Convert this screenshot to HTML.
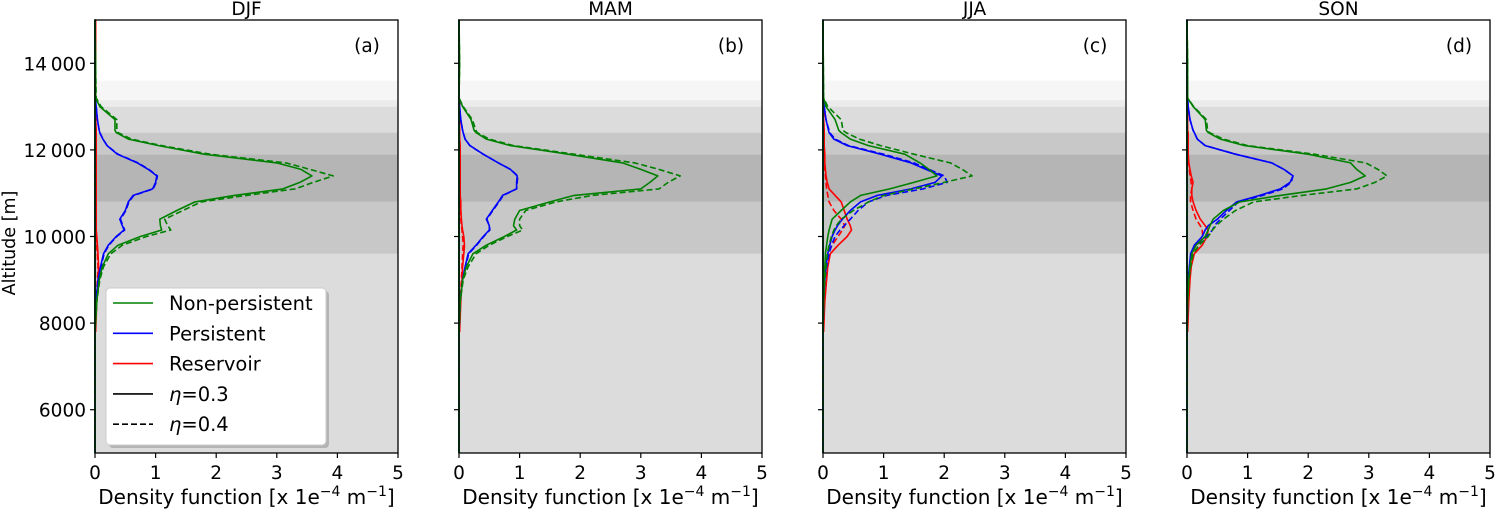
<!DOCTYPE html>
<html><head><meta charset="utf-8"><style>
html,body{margin:0;padding:0;background:#fff;}
svg{display:block;font-family:"DejaVu Sans","Liberation Sans",sans-serif;}
</style></head><body>
<svg id="chart" width="1496" height="509" viewBox="0 0 1496 509" xmlns="http://www.w3.org/2000/svg"></svg>
<script>
const seasons = ["DJF","MAM","JJA","SON"];
const panelLabels = ["(a)","(b)","(c)","(d)"];
const xTicks = [0,1,2,3,4,5];
const yTicks = [6000,8000,10000,12000,14000];
const yTickLabels = ["6000","8000","10\u2009000","12\u2009000","14\u2009000"];
const altitudes = [7800,8500,9000,9300,9600,9800,10000,10150,10250,10400,10600,10800,10950,11100,11250,11400,11550,11700,11900,12100,12250,12400,12450,12700,13000,13200,14000,15000];
const bandLo = [5000,9600,10800,11900,12400,13000,13150];
const bandHi = [9600,10800,11900,12400,13000,13150,13600];
const bandFill = ["#dcdcdc","#c8c8c8","#b5b5b5","#c8c8c8","#dcdcdc","#ebebeb","#f6f6f6"];
const djfNp03 = [0,0.03,0.07,0.12,0.22,0.38,0.75,1.1,1.08,1.07,1.35,1.65,2.3,3.1,3.38,3.58,3.4,3.0,1.8,1.05,0.55,0.35,0.33,0.33,0.08,0.01,0.01,0];
const djfNp04 = [0,0.03,0.08,0.14,0.26,0.45,0.85,1.25,1.2,1.15,1.45,1.75,2.5,3.3,3.6,3.93,3.55,3.15,1.9,1.1,0.6,0.38,0.36,0.36,0.1,0.02,0.01,0];
const djfP03 = [0,0.02,0.05,0.09,0.14,0.22,0.35,0.48,0.45,0.41,0.5,0.55,0.63,0.95,1.0,1.02,0.88,0.7,0.37,0.2,0.13,0.08,0.07,0.04,0.02,0.005,0,0];
const djfP04 = [0,0.02,0.05,0.1,0.15,0.23,0.36,0.49,0.46,0.42,0.51,0.56,0.64,0.96,1.01,1.03,0.89,0.71,0.38,0.2,0.13,0.08,0.07,0.04,0.02,0.005,0,0];
const djfR03 = [0.01,0.03,0.05,0.06,0.05,0.04,0.03,0.02,0.02,0.02,0.02,0.02,0.02,0.02,0.02,0.02,0.02,0.02,0.02,0.02,0.02,0.02,0.02,0.01,0.01,0.01,0.01,0.01];
const djfR04 = [0.01,0.02,0.04,0.05,0.04,0.03,0.02,0.02,0.02,0.02,0.02,0.02,0.02,0.02,0.02,0.02,0.02,0.02,0.02,0.02,0.02,0.02,0.02,0.01,0.01,0.01,0.01,0.01];
const mamNp03 = [0,0.02,0.06,0.12,0.23,0.45,0.75,0.95,0.9,0.92,1.0,1.5,1.9,3.0,3.15,3.28,3.0,2.7,1.8,0.85,0.45,0.28,0.25,0.2,0.06,0,0.01,0];
const mamNp04 = [0,0.02,0.07,0.15,0.28,0.5,0.8,1.05,1.0,1.0,1.1,1.6,2.2,3.3,3.45,3.65,3.3,2.9,1.9,0.9,0.5,0.3,0.28,0.22,0.07,0,0.01,0];
const mamP03 = [0,0.02,0.06,0.1,0.15,0.28,0.4,0.5,0.5,0.45,0.55,0.65,0.72,0.95,0.95,0.96,0.85,0.65,0.4,0.18,0.1,0.07,0.06,0.03,0.01,0,0,0];
const mamP04 = [0,0.02,0.06,0.11,0.16,0.29,0.41,0.51,0.5,0.46,0.56,0.66,0.73,0.95,0.96,0.97,0.85,0.65,0.4,0.18,0.1,0.07,0.06,0.03,0.01,0,0,0];
const mamR03 = [0.01,0.03,0.05,0.06,0.08,0.09,0.08,0.06,0.05,0.04,0.03,0.03,0.02,0.02,0.02,0.02,0.02,0.02,0.02,0.02,0.01,0.01,0.01,0.01,0.01,0,0,0];
const mamR04 = [0.01,0.02,0.04,0.05,0.06,0.07,0.06,0.05,0.04,0.03,0.03,0.02,0.02,0.02,0.02,0.02,0.02,0.02,0.02,0.02,0.01,0.01,0.01,0.01,0.01,0,0,0];
const jjaNp03 = [0,0.01,0.02,0.03,0.04,0.06,0.08,0.1,0.12,0.15,0.3,0.45,0.62,1.1,1.5,1.88,1.75,1.6,1.35,0.75,0.45,0.3,0.26,0.2,0.05,0.01,0.005,0];
const jjaNp04 = [0,0.01,0.03,0.05,0.07,0.1,0.14,0.18,0.22,0.3,0.5,0.75,1.0,1.5,2.0,2.46,2.3,2.1,1.5,0.95,0.6,0.38,0.33,0.3,0.08,0.01,0.005,0];
const jjaP03 = [0,0.01,0.03,0.05,0.08,0.11,0.15,0.2,0.24,0.32,0.45,0.62,0.9,1.45,1.85,1.96,1.7,1.45,0.95,0.4,0.18,0.1,0.09,0.05,0.02,0,0,0];
const jjaP04 = [0,0.01,0.03,0.06,0.1,0.14,0.2,0.28,0.35,0.45,0.58,0.75,1.05,1.65,2.05,2.0,1.75,1.5,1.0,0.42,0.2,0.11,0.1,0.05,0.02,0,0,0];
const jjaR03 = [0.01,0.03,0.06,0.08,0.12,0.25,0.4,0.47,0.45,0.4,0.35,0.3,0.2,0.1,0.07,0.05,0.04,0.03,0.03,0.02,0.02,0.02,0.02,0.01,0.01,0,0,0];
const jjaR04 = [0.01,0.02,0.04,0.06,0.08,0.15,0.25,0.32,0.36,0.3,0.18,0.1,0.08,0.06,0.05,0.04,0.03,0.03,0.02,0.02,0.02,0.02,0.02,0.01,0.01,0,0,0];
const sonNp03 = [0,0.01,0.03,0.05,0.08,0.15,0.3,0.35,0.38,0.43,0.6,0.87,1.54,2.3,2.7,2.94,2.8,2.7,2.0,0.95,0.55,0.35,0.32,0.3,0.1,0.01,0.01,0];
const sonNp04 = [0,0.01,0.03,0.06,0.1,0.2,0.35,0.42,0.48,0.6,0.8,1.1,1.9,2.8,3.1,3.3,3.15,2.95,2.1,1.0,0.6,0.37,0.34,0.32,0.11,0.01,0.01,0];
const sonP03 = [0,0.01,0.02,0.04,0.06,0.12,0.25,0.3,0.35,0.5,0.65,0.82,1.2,1.54,1.7,1.75,1.6,1.4,0.8,0.3,0.17,0.12,0.1,0.05,0.02,0.01,0,0];
const sonP04 = [0,0.01,0.02,0.04,0.07,0.15,0.32,0.42,0.45,0.55,0.7,0.85,1.25,1.58,1.72,1.75,1.6,1.4,0.8,0.3,0.17,0.12,0.1,0.05,0.02,0.01,0,0];
const sonR03 = [0.01,0.03,0.05,0.07,0.12,0.25,0.33,0.35,0.3,0.22,0.15,0.1,0.08,0.08,0.1,0.07,0.05,0.03,0.02,0.02,0.02,0.02,0.01,0.01,0.01,0,0,0];
const sonR04 = [0.01,0.02,0.04,0.06,0.1,0.2,0.26,0.25,0.22,0.15,0.1,0.06,0.06,0.08,0.07,0.05,0.04,0.03,0.02,0.02,0.02,0.02,0.01,0.01,0.01,0,0,0];

const seasonData = [
  [djfNp03,djfNp04,djfP03,djfP04,djfR03,djfR04],
  [mamNp03,mamNp04,mamP03,mamP04,mamR03,mamR04],
  [jjaNp03,jjaNp04,jjaP03,jjaP04,jjaR03,jjaR04],
  [sonNp03,sonNp04,sonP03,sonP04,sonR03,sonR04]];
const seriesNames = ["non-persistent-eta03","non-persistent-eta04","persistent-eta03","persistent-eta04","reservoir-eta03","reservoir-eta04"];
const seriesColor = ["#008000","#008000","#0000ff","#0000ff","#ff0000","#ff0000"];
const seriesDash = [false,true,false,true,false,true];

const NS="http://www.w3.org/2000/svg";
const svg=document.getElementById('chart');
const panelX=[95,459,823,1187], PW=303, PT=20, PH=433;
const yMin=5000,yMax=15000,xMax=5;
function ys(v){return PT+PH*(yMax-v)/(yMax-yMin);}
function xs(p,v){return panelX[p]+PW*v/xMax;}
function el(tag,attrs,parent){const e=document.createElementNS(NS,tag);for(const k in attrs)e.setAttribute(k,attrs[k]);(parent||svg).appendChild(e);return e;}

const drawOrder=[4,5,2,3,0,1];
for(let p=0;p<4;p++){
  const g=el('g',{});
  
  
  for(let b=0;b<bandLo.length;b++){
    const r=el('rect',{x:panelX[p],y:ys(bandHi[b]),width:PW,height:ys(bandLo[b])-ys(bandHi[b]),fill:bandFill[b]},g);
    
    
  }
  for(const s of drawOrder){
    const vals=seasonData[p][s];
    let d='';
    for(let i=0;i<altitudes.length;i++){d+=(i?'L':'M')+xs(p,vals[i]).toFixed(1)+','+ys(altitudes[i]).toFixed(1);}
    d+='L'+xs(p,0)+','+ys(yMin);
    const a={d:d,fill:'none',stroke:seriesColor[s],'stroke-width':1.6,'stroke-linejoin':'round'};
    if(seriesDash[s])a['stroke-dasharray']='6,3';
    const path=el('path',a,g);
    
    
  }
  const fr=el('rect',{x:panelX[p],y:PT,width:PW,height:PH,fill:'none',stroke:'#000','stroke-width':1.3},g);
  
  
  const t=el('text',{x:panelX[p]+PW/2,y:15,'text-anchor':'middle','font-size':18.5},g);
  t.textContent=seasons[p];
  
  
  const pl=el('text',{x:panelX[p]+272,y:52,'text-anchor':'middle','font-size':18.5},g);
  pl.textContent=panelLabels[p];
  
  
  for(const v of xTicks){
    el('line',{x1:xs(p,v),x2:xs(p,v),y1:PT+PH,y2:PT+PH+5,stroke:'#000','stroke-width':1.2},g);
    const tx=el('text',{x:xs(p,v),y:PT+PH+26,'text-anchor':'middle','font-size':18.5},g);
    tx.textContent=v;
    
    
  }
  for(let i=0;i<yTicks.length;i++){
    el('line',{x1:panelX[p]-5,x2:panelX[p],y1:ys(yTicks[i]),y2:ys(yTicks[i]),stroke:'#000','stroke-width':1.2},g);
    if(p===0){
      const ty=el('text',{x:panelX[p]-9,y:ys(yTicks[i])+7,'text-anchor':'end','font-size':18.5},g);
      ty.textContent=yTickLabels[i];
      
      
    }
  }
  const xl=el('text',{x:panelX[p]+PW/2,y:504,'text-anchor':'middle','font-size':20},g);
  xl.innerHTML='Density function [x 1e<tspan dy="-8" font-size="14">\u22124</tspan><tspan dy="8"> m</tspan><tspan dy="-8" font-size="14">\u22121</tspan><tspan dy="8">]</tspan>';
  
  
}
const yl=el('text',{x:0,y:0,'text-anchor':'middle','font-size':17.5,transform:'translate(15,243) rotate(-90)'});
yl.textContent='Altitude [m]';



const lg=el('g',{});


el('rect',{x:109,y:291,width:220,height:157,rx:4,fill:'#999',opacity:0.6},lg);
el('rect',{x:106,y:288,width:220,height:157,rx:4,fill:'#fff',stroke:'#ccc','stroke-width':1},lg);
const legLabels=["Non-persistent","Persistent","Reservoir","\u03b7=0.3","\u03b7=0.4"];
const legColors=["#008000","#0000ff","#ff0000","#000","#000"];
const legDash=[false,false,false,false,true];
for(let i=0;i<legLabels.length;i++){
  const yy=303+i*30.3;
  const a={x1:113,x2:153,y1:yy,y2:yy,stroke:legColors[i],'stroke-width':1.6};
  if(legDash[i])a['stroke-dasharray']='6,3';
  el('line',a,lg);
  const tt=el('text',{x:169,y:yy+7,'font-size':19.5},lg);
  if(i>=3){tt.innerHTML='<tspan font-style="italic">\u03b7</tspan>='+(i===3?'0.3':'0.4');}
  else tt.textContent=legLabels[i];
  
  
}
</script>
</body></html>
